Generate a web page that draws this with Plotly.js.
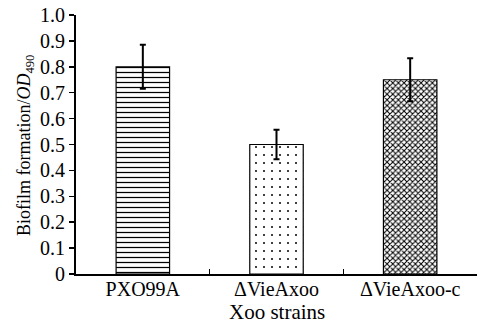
<!DOCTYPE html>
<html><head><meta charset="utf-8">
<script src="https://cdn.plot.ly/plotly-3.0.1.min.js"></script>
<style>body{margin:0;background:#fff}#c{width:485px;height:327px}</style>
</head><body><div id="c"></div>
<script>
const categories = ["PXO99A", "\u0394VieAxoo", "\u0394VieAxoo-c"];
const values = [0.80, 0.50, 0.75];
const errors = [0.085, 0.057, 0.083];
const patterns = ["-", ".", "x"];
const yTicks = [0, 0.1, 0.2, 0.3, 0.4, 0.5, 0.6, 0.7, 0.8, 0.9, 1.0];
const yTickText = ["0", "0.1", "0.2", "0.3", "0.4", "0.5", "0.6", "0.7", "0.8", "0.9", "1.0"];
const xTitle = "Xoo strains";
const yTitle = "Biofilm formation/<i>OD</i><sub>490</sub>";

const fam = "Liberation Serif, Times New Roman, serif";
const font = {family: fam, size: 20, color: "#000"};
const traces = categories.map((c, i) => ({
  type: "bar", x: [c], y: [values[i]],
  error_y: {type: "data", array: [errors[i]], symmetric: true, color: "#000", thickness: 2, width: 3},
  width: 0.4,
  marker: {color: "#fff", line: {color: "#000", width: 1.2},
    pattern: {shape: patterns[i], fgcolor: "#000", bgcolor: "#fff",
      size: i === 2 ? 4 : (i === 1 ? 8 : 5), solidity: i === 2 ? 0.45 : (i === 1 ? 0.05 : 0.25)}},
  showlegend: false, hoverinfo: "skip"
}));
const plotH = 327 - 15 - 53;
const layout = {
  width: 485, height: 327,
  margin: {l: 76, r: 8, t: 15, b: 53},
  paper_bgcolor: "#fff", plot_bgcolor: "#fff",
  font: font, barmode: "overlay",
  xaxis: {type: "category", showline: true, linecolor: "#000", linewidth: 2,
    ticks: "inside", ticklen: 5, tickwidth: 1.5, tickcolor: "#000", tickson: "boundaries",
    showgrid: false, zeroline: false, tickfont: font, ticklabelstandoff: -4},
  yaxis: {range: [0, 1.0], showline: true, linecolor: "#000", linewidth: 2,
    ticks: "outside", ticklen: 5, tickwidth: 1.5, tickcolor: "#000",
    tickvals: yTicks, ticktext: yTickText, showgrid: false, zeroline: false, tickfont: font},
  annotations: [
    {text: xTitle, xref: "paper", yref: "paper", x: 0.5, y: -(312 - 274) / plotH,
     xanchor: "center", yanchor: "middle", showarrow: false, font: {family: fam, size: 21, color: "#000"}},
    {text: yTitle, xref: "paper", yref: "paper", x: -(76 - 25) / 401, y: (274 - 146) / plotH,
     xanchor: "center", yanchor: "middle", textangle: -90, showarrow: false,
     font: {family: fam, size: 18, color: "#000"}}
  ]
};
Plotly.newPlot("c", traces, layout, {displayModeBar: false, staticPlot: true});
</script></body></html>
